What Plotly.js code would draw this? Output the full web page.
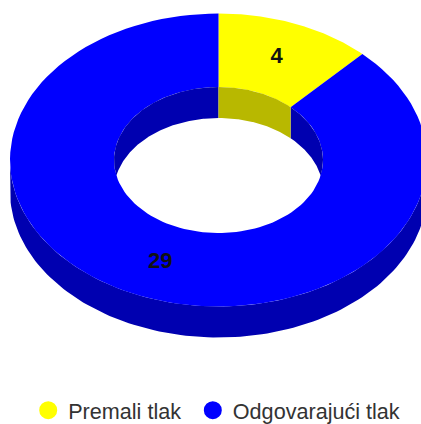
<!DOCTYPE html>
<html>
<head>
<meta charset="utf-8">
<script src="https://cdn.plot.ly/plotly-3.0.1.min.js"></script>
<style>html,body{margin:0;padding:0;background:#fff;overflow:hidden}#c{width:421px;height:424px}</style>
</head>
<body>
<div id="c"></div>
<script>
const categories = ['Premali tlak', 'Odgovarajući tlak'];
const values = [4, 29];
const topColors = ['#ffff00', '#0000ff'];
const wallColors = ['#b8b800', '#0000b0'];

const cx = 218.5, cy = 160, outerRx = 208.5, outerRy = 146.5, innerRx = 104.5, innerRy = 73, depth = 31;
const total = values.reduce((a, b) => a + b, 0);

function arc(rx, ry, a0, a1, dy) {
  const n = 120, xs = [], ys = [];
  for (let i = 0; i <= n; i++) {
    const t = a0 + (a1 - a0) * i / n;
    xs.push(cx + rx * Math.sin(t));
    ys.push(cy + dy - ry * Math.cos(t));
  }
  return [xs, ys];
}
function band(a, b) {
  return { x: a[0].concat(b[0].slice().reverse()), y: a[1].concat(b[1].slice().reverse()) };
}
function area(p, color) {
  return { x: p.x, y: p.y, type: 'scatter', mode: 'lines', fill: 'toself', fillcolor: color,
           line: { width: 0, color: color }, hoverinfo: 'skip', showlegend: false };
}

const traces = [];
const PI = Math.PI;
const sectors = [];
let acc = 0;
values.forEach(v => { const a0 = acc / total * 2 * PI; acc += v; sectors.push([a0, acc / total * 2 * PI]); });

// outer wall (front half)
traces.push(area(band(arc(outerRx, outerRy, PI / 2, 3 * PI / 2, 0), arc(outerRx, outerRy, PI / 2, 3 * PI / 2, depth)), wallColors[1]));
// top ring sectors
sectors.forEach((s, i) => {
  traces.push(area(band(arc(outerRx, outerRy, s[0], s[1], 0), arc(innerRx, innerRy, s[0], s[1], 0)), topColors[i]));
});
// inner wall: only the back part shows through the hole
const tc = Math.acos(depth / 2 / innerRy);
const tb = PI - tc;
const sepA = sectors[0][1];
traces.push(area(band(arc(innerRx, innerRy, sepA, tb, 0), arc(innerRx, innerRy, sepA, tc, depth)), wallColors[1]));
traces.push(area(band(arc(innerRx, innerRy, -tb, 0, 0), arc(innerRx, innerRy, -tc, 0, depth)), wallColors[1]));
traces.push(area(band(arc(innerRx, innerRy, 0, sepA, 0), arc(innerRx, innerRy, 0, sepA, depth)), wallColors[0]));

// value labels
const midR = (outerRx + innerRx) / 2 / outerRx;
const labelPts = sectors.map(s => {
  const m = (s[0] + s[1]) / 2;
  return [cx + midR * outerRx * Math.sin(m), cy - midR * outerRy * Math.cos(m)];
});
traces.push({
  x: labelPts.map(p => p[0]), y: labelPts.map(p => p[1]), text: values.map(String),
  type: 'scatter', mode: 'text', textposition: 'middle center',
  textfont: { family: 'Liberation Sans, Arial, sans-serif', size: 22, color: '#111111', weight: 'bold' },
  hoverinfo: 'skip', showlegend: false
});
// legend entries: one legend per entry so each can sit at its own place
categories.forEach((c, i) => {
  traces.push({ x: [null], y: [null], name: c, type: 'scatter', mode: 'markers', legend: i ? 'legend2' : 'legend',
    marker: { symbol: 'circle', size: 16, color: topColors[i], line: { width: 2, color: topColors[i] } } });
});

const legendBase = { orientation: 'h', xanchor: 'left', y: -0.018, yanchor: 'bottom',
  font: { family: 'Liberation Sans, Arial, sans-serif', size: 21.6, color: '#333333' },
  bgcolor: 'rgba(0,0,0,0)' };

Plotly.newPlot('c', traces, {
  width: 421, height: 424,
  margin: { l: 0, r: 0, t: 0, b: 0, autoexpand: false },
  paper_bgcolor: '#ffffff', plot_bgcolor: '#ffffff',
  xaxis: { range: [0, 421], visible: false, fixedrange: true },
  yaxis: { range: [424, 0], visible: false, fixedrange: true },
  legend: Object.assign({}, legendBase, { x: 0.067 }),
  legend2: Object.assign({}, legendBase, { x: 0.458 }),
  showlegend: true
}, { displayModeBar: false, staticPlot: true });
</script>
</body>
</html>
